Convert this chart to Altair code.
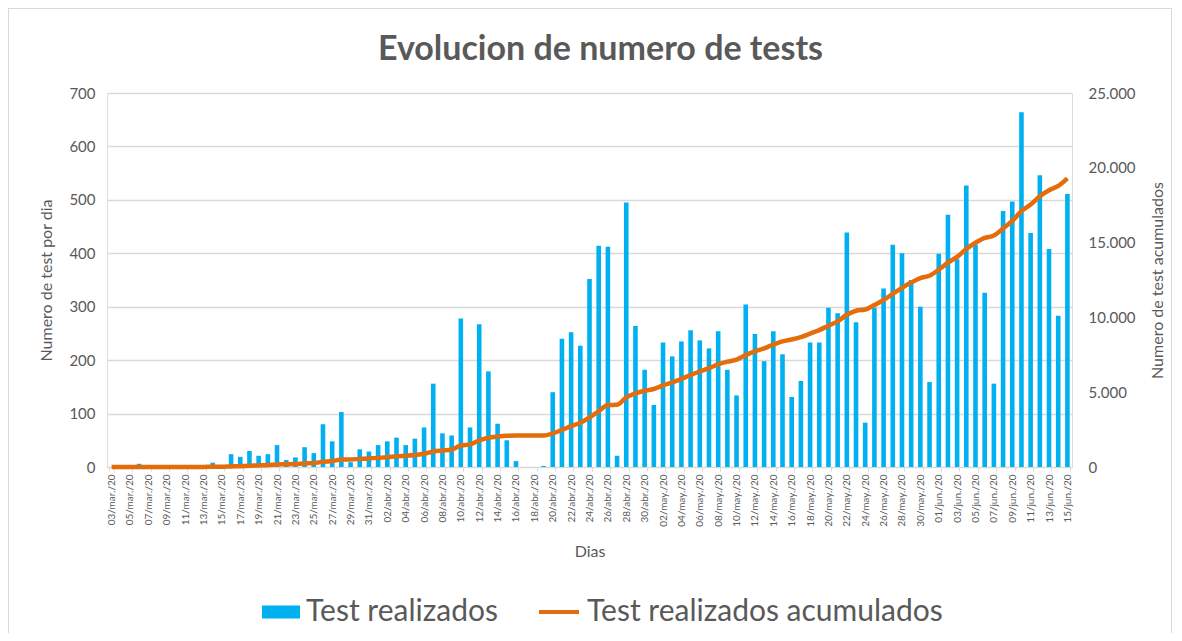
import altair as alt
import pandas as pd

# ---------------- data ----------------
start_date = "2020-03-03"
n_days = 105
month_abbr = {3: "mar", 4: "abr", 5: "may", 6: "jun"}
dates = pd.date_range(start_date, periods=n_days, freq="D")
fechas = [f"{d.day:02d}/{month_abbr[d.month]}./20" for d in dates]

# daily tests, 03/mar/20 .. 15/jun/20
tests_mar = [0, 0, 0, 6, 0, 0, 0, 0, 0, 0, 0, 8, 0, 24, 19, 30, 21, 24, 41, 13,
             18, 37, 26, 80, 48, 103, 9, 33, 29]
tests_abr = [41, 48, 55, 41, 53, 74, 156, 63, 59, 278, 74, 267, 179, 81, 50, 11,
             0, 0, 2, 140, 240, 252, 227, 352, 414, 412, 21, 495, 264, 182]
tests_may = [116, 233, 207, 235, 256, 237, 222, 254, 182, 134, 304, 249, 198, 254,
             211, 131, 161, 233, 233, 298, 288, 439, 271, 83, 298, 334, 416, 400,
             350, 300, 159]
tests_jun = [399, 472, 389, 527, 416, 326, 156, 479, 497, 664, 438, 546, 408, 283, 511]
tests = tests_mar + tests_abr + tests_may + tests_jun

serie_barras = "Test realizados"
serie_linea = "Test realizados acumulados"

df = pd.DataFrame({"idx": list(range(n_days)), "fecha": fechas, "tests": tests})

# ---------------- style ----------------
FONT = "Lato"
GREY_TXT = "#595959"
GRID = "#D9D9D9"
BLUE = "#00B0F0"
ORANGE = "#E46C0A"

W, H = 965, 374

x_enc = alt.X(
    "fecha:N",
    sort=fechas,
    scale=alt.Scale(paddingInner=0.5, paddingOuter=0.25),
    axis=alt.Axis(
        title="Dias",
        values=fechas[::2],
        labelAngle=-90,
        labelFontSize=10,
        labelColor=GREY_TXT,
        labelFont=FONT,
        labelPadding=3,
        tickSize=4,
        tickColor=GRID,
        tickBand="extent",
        domainColor=GRID,
        titleFontSize=16,
        titleFontWeight="normal",
        titleColor=GREY_TXT,
        titleFont=FONT,
        titlePadding=17,
        grid=False,
    ),
)

frame = alt.Chart(df).mark_rect(
    fill="transparent", stroke=GRID, strokeWidth=1
).encode(
    x=alt.value(-98.5), x2=alt.value(1064.5), y=alt.value(-84.5), y2=alt.value(700)
)

bars = alt.Chart(df).transform_calculate(
    serie=f"'{serie_barras}'"
).mark_bar().encode(
    x=x_enc,
    y=alt.Y(
        "tests:Q",
        scale=alt.Scale(domain=[0, 700], nice=False),
        axis=alt.Axis(
            title="Numero de test por dia",
            values=[0, 100, 200, 300, 400, 500, 600, 700],
            labelFontSize=15,
            labelColor=GREY_TXT,
            labelFont=FONT,
            labelPadding=12,
            ticks=False,
            domain=False,
            grid=True,
            gridColor=GRID,
            gridWidth=1.5,
            titleFontSize=16,
            titleFontWeight="normal",
            titleColor=GREY_TXT,
            titleFont=FONT,
            titlePadding=14,
        ),
    ),
    fill=alt.Fill(
        "serie:N",
        scale=alt.Scale(domain=[serie_barras], range=[BLUE]),
        legend=alt.Legend(
            title=None,
            orient="none",
            legendX=155,
            legendY=500,
            padding=0,
            symbolType="M-1,-0.34H1V0.34H-1Z",
            symbolSize=1444,
            symbolStrokeWidth=0,
            labelFontSize=30,
            labelFont=FONT,
            labelColor=GREY_TXT,
            labelOffset=6,
            labelLimit=700,
        ),
    ),
)

line = alt.Chart(df).transform_window(
    cum="sum(tests)", sort=[alt.SortField("idx")], frame=[None, 0]
).transform_calculate(
    serie=f"'{serie_linea}'"
).mark_line(strokeWidth=4.5, interpolate="monotone").encode(
    x=alt.X("fecha:N", sort=fechas),
    y=alt.Y(
        "cum:Q",
        scale=alt.Scale(domain=[0, 25000], nice=False),
        axis=alt.Axis(
            orient="right",
            title="Numero de test acumulados",
            values=[0, 5000, 10000, 15000, 20000, 25000],
            labelExpr="replace(format(datum.value, ','), ',', '.')",
            labelFontSize=15,
            labelColor=GREY_TXT,
            labelFont=FONT,
            labelPadding=16,
            ticks=False,
            domain=False,
            grid=False,
            titleFontSize=16,
            titleFontWeight="normal",
            titleColor=GREY_TXT,
            titleFont=FONT,
            titlePadding=14,
            titleAngle=270,
            titleBaseline="top",
        ),
    ),
    stroke=alt.Stroke(
        "serie:N",
        scale=alt.Scale(domain=[serie_linea], range=[ORANGE]),
        legend=alt.Legend(
            title=None,
            orient="none",
            legendX=430,
            legendY=497,
            padding=0,
            symbolType="stroke",
            symbolSize=1600,
            symbolStrokeWidth=4,
            labelFontSize=30,
            labelFont=FONT,
            labelColor=GREY_TXT,
            labelOffset=6,
            labelLimit=700,
        ),
    ),
)

chart = alt.layer(frame, bars, line).resolve_scale(
    y="independent"
).properties(
    width=W,
    height=H,
    autosize=alt.AutoSizeParams(type="none"),
    padding={"left": 99, "top": 85, "right": 102, "bottom": 166},
    title=alt.TitleParams(
        "Evolucion de numero de tests",
        fontSize=34,
        fontWeight="bold",
        color=GREY_TXT,
        font=FONT,
        anchor="middle",
        offset=0,
        dy=59,
        dx=11,
    ),
).configure_view(stroke=None).configure(background="white")

chart.save("out.html", embed_options={"renderer": "svg", "actions": False})
